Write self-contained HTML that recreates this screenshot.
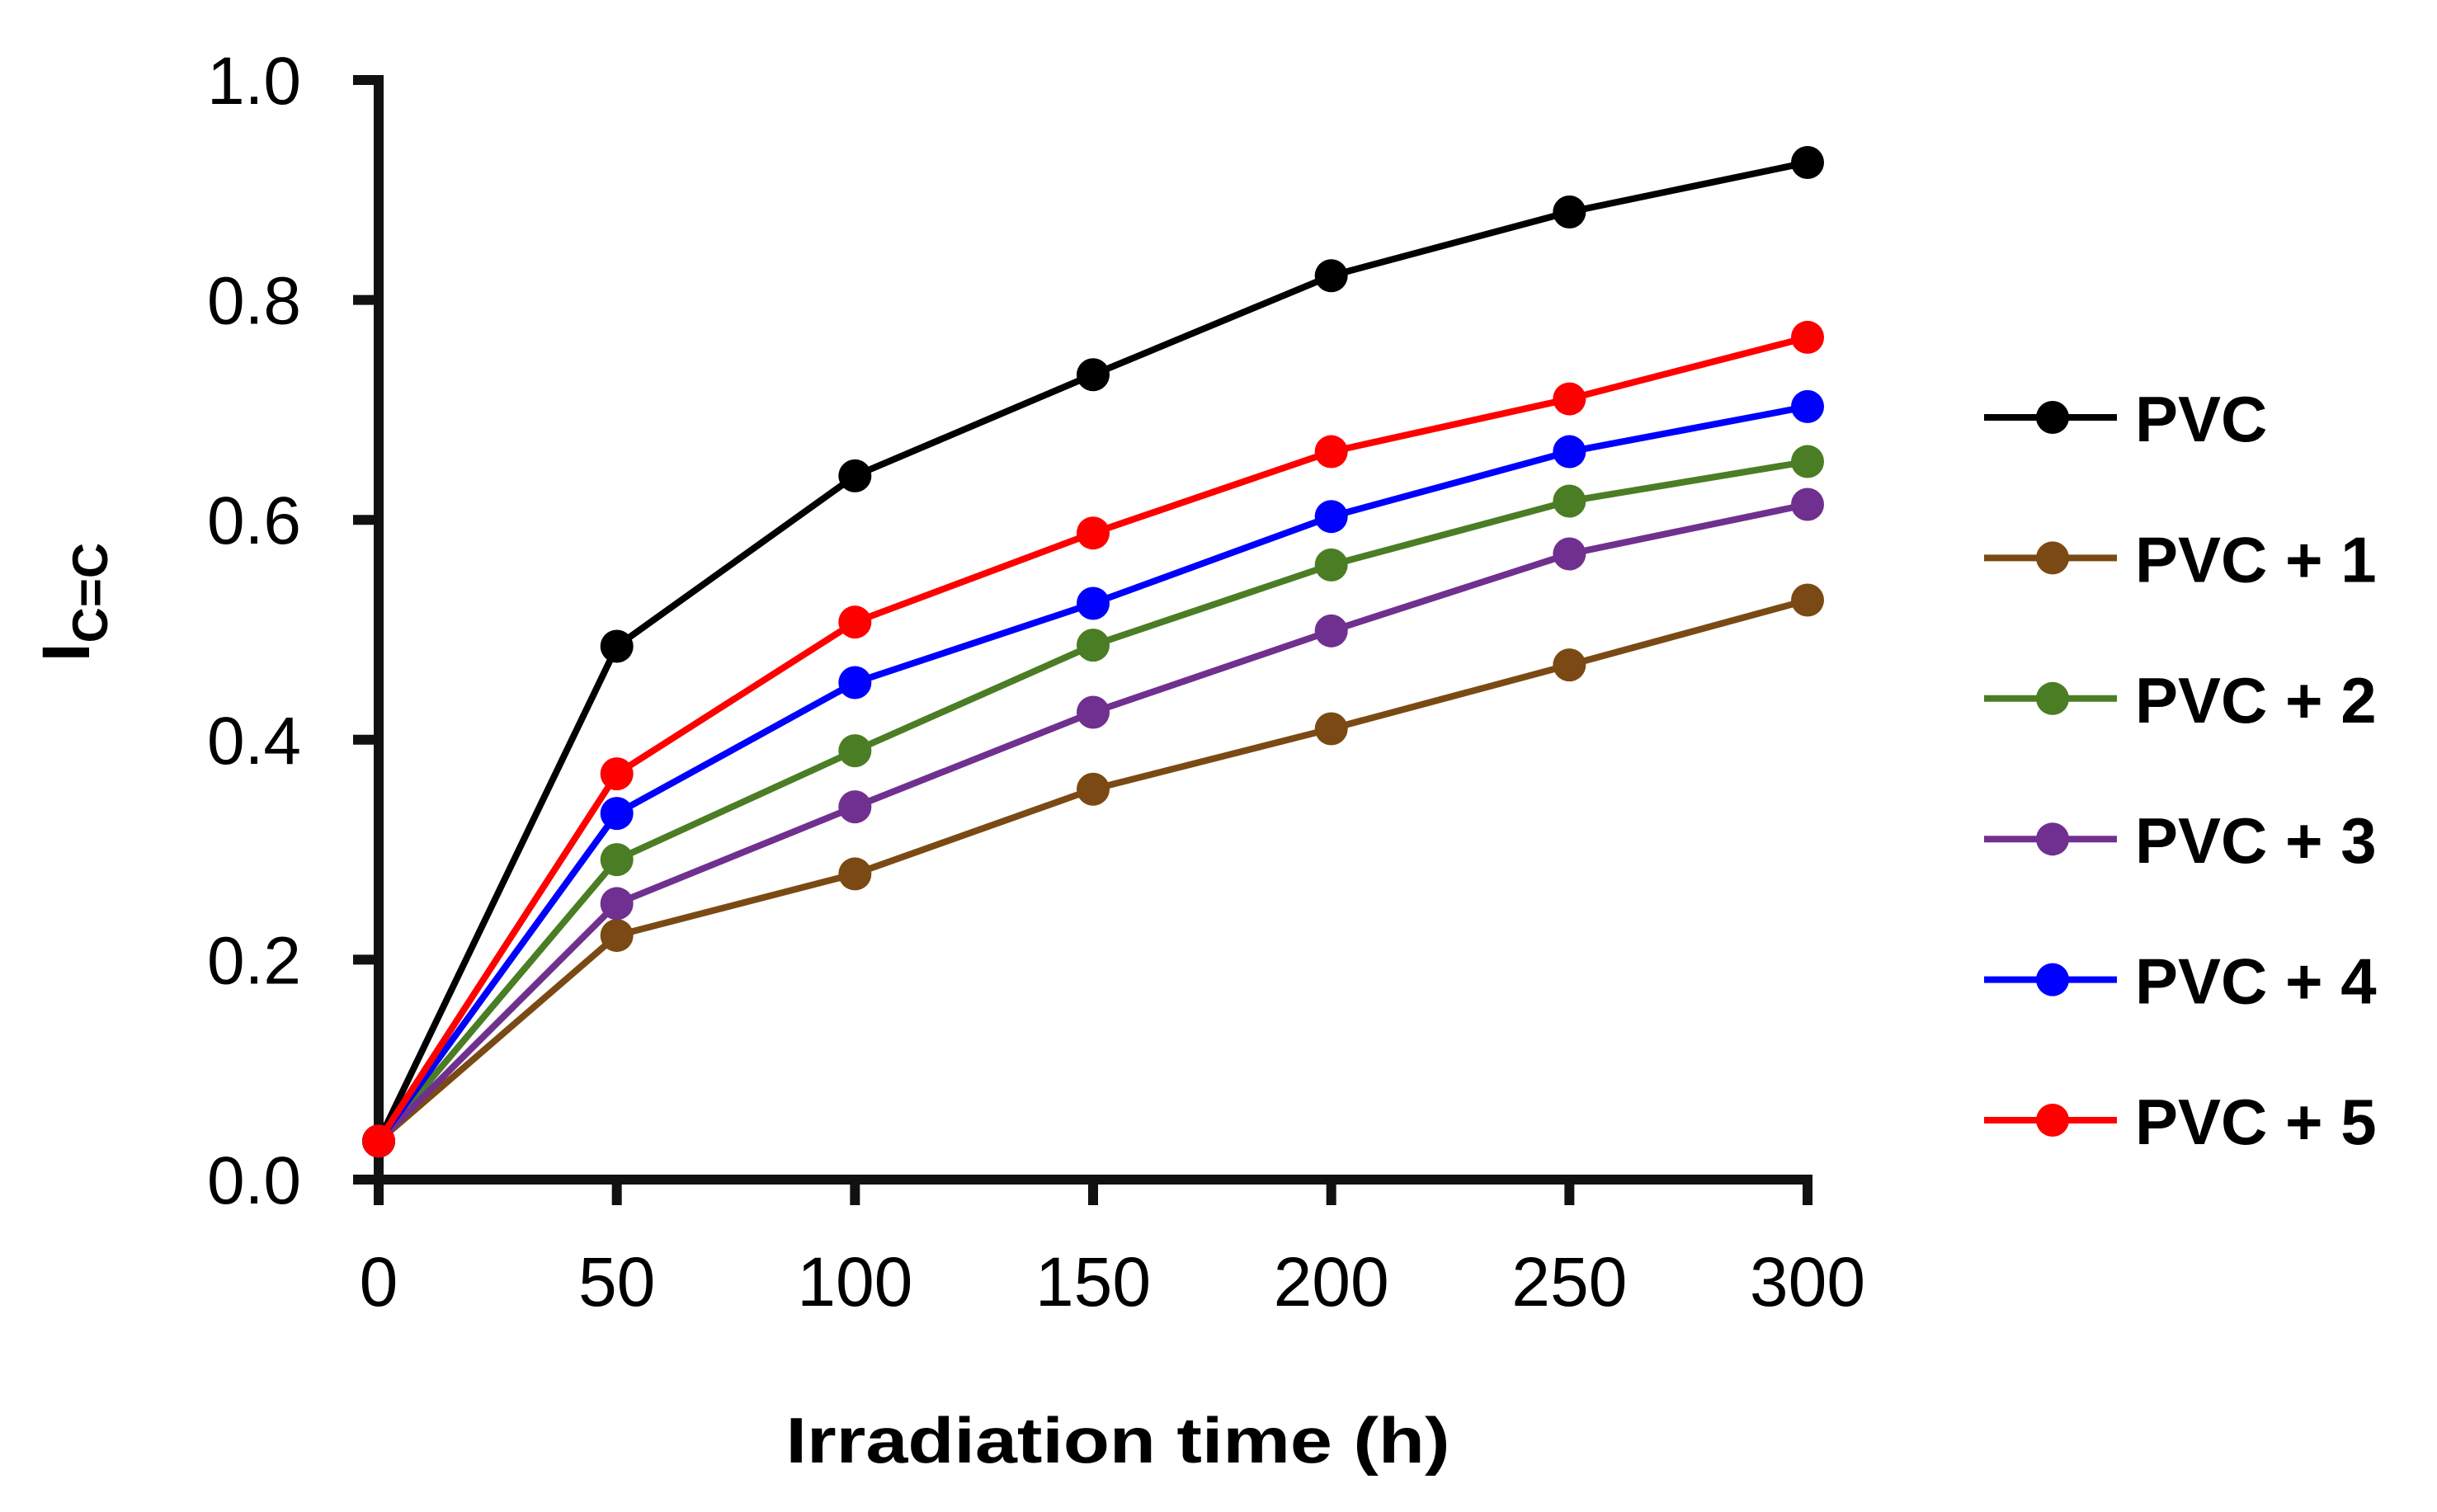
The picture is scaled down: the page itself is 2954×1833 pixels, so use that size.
<!DOCTYPE html>
<html><head><meta charset="utf-8"><style>
html,body{margin:0;padding:0;background:#fff;}
svg{display:block;font-family:"Liberation Sans",sans-serif;}
</style></head><body>
<svg id="chart" width="2954" height="1833" viewBox="0 0 2954 1833" xmlns="http://www.w3.org/2000/svg">
<g id="axes"></g>
<g id="series"></g>
<g id="legend"></g>
<text x="1355" y="1773" text-anchor="middle" font-size="78" font-weight="bold" textLength="805" lengthAdjust="spacingAndGlyphs">Irradiation time (h)</text>
<text transform="translate(108,730) rotate(-90)" text-anchor="middle" font-size="82" font-weight="bold">I<tspan font-size="60" dy="22">C=C</tspan></text>
</svg>
<script>
const xTicks = [0, 50, 100, 150, 200, 250, 300];
const yTicks = [0.0, 0.2, 0.4, 0.6, 0.8, 1.0];
const yTickLabels = ["0.0", "0.2", "0.4", "0.6", "0.8", "1.0"];
const times = [0, 50, 100, 150, 200, 250, 300];
const seriesNames = ["PVC", "PVC + 1", "PVC + 2", "PVC + 3", "PVC + 4", "PVC + 5"];
const seriesColors = ["#000000", "#7b4a14", "#4b7d25", "#70308f", "#0000ff", "#ff0000"];
const pvc  = [0.035, 0.485, 0.640, 0.732, 0.822, 0.880, 0.925];
const pvc1 = [0.035, 0.222, 0.278, 0.355, 0.410, 0.468, 0.527];
const pvc2 = [0.035, 0.291, 0.390, 0.486, 0.559, 0.617, 0.653];
const pvc3 = [0.035, 0.251, 0.339, 0.425, 0.499, 0.569, 0.614];
const pvc4 = [0.035, 0.333, 0.452, 0.524, 0.603, 0.662, 0.703];
const pvc5 = [0.035, 0.369, 0.507, 0.588, 0.662, 0.710, 0.766];
const allSeries = [pvc, pvc1, pvc2, pvc3, pvc4, pvc5];

const NS = "http://www.w3.org/2000/svg";
const X0 = 459, X1 = 2191, Y0 = 1430, Y1 = 97;
function xs(v){ return X0 + (v - 0) / 300 * (X1 - X0); }
function ys(v){ return Y0 - v / 1.0 * (Y0 - Y1); }
function mk(tag, attrs, parent){
  const e = document.createElementNS(NS, tag);
  for (const k in attrs) e.setAttribute(k, attrs[k]);
  parent.appendChild(e);
  return e;
}
const axes = document.getElementById("axes");
const ser = document.getElementById("series");
const leg = document.getElementById("legend");

let e = mk("line", {x1:X0, y1:Y1-6, x2:X0, y2:Y0+30, stroke:"#111", "stroke-width":12}, axes);


e = mk("line", {x1:X0-6, y1:Y0, x2:X1+6, y2:Y0, stroke:"#111", "stroke-width":12}, axes);



yTicks.forEach((v, i) => {
  const t = mk("line", {x1:X0-31, y1:ys(v), x2:X0, y2:ys(v), stroke:"#111", "stroke-width":12}, axes);
  
  
  const l = mk("text", {x:365, y:ys(v)+29, "text-anchor":"end", "font-size":82}, axes);
  l.textContent = yTickLabels[i];
  
  
});
xTicks.forEach(v => {
  const t = mk("line", {x1:xs(v), y1:Y0, x2:xs(v), y2:Y0+31, stroke:"#111", "stroke-width":12}, axes);
  
  
  const l = mk("text", {x:xs(v), y:1583, "text-anchor":"middle", "font-size":84}, axes);
  l.textContent = String(v);
  
  
});

allSeries.forEach((vals, si) => {
  const g = mk("g", {}, ser);
  
  
  const pts = vals.map((v, i) => xs(times[i]) + "," + ys(v)).join(" ");
  const pl = mk("polyline", {points:pts, fill:"none", stroke:seriesColors[si], "stroke-width":8}, g);
  
  
  vals.forEach((v, i) => {
    const c = mk("circle", {cx:xs(times[i]), cy:ys(v), r:20, fill:seriesColors[si]}, g);
    
    
  });
});

seriesNames.forEach((n, i) => {
  const y = 506 + i * 170.4;
  const g = mk("g", {}, leg);
  
  
  mk("line", {x1:2405, y1:y, x2:2566, y2:y, stroke:seriesColors[i], "stroke-width":8}, g);
  mk("circle", {cx:2488, cy:y, r:20, fill:seriesColors[i]}, g);
  const t = mk("text", {x:2588, y:y+29, "font-size":78, "font-weight":"bold"}, g);
  t.textContent = n;
  
  
});
</script>
</body></html>
